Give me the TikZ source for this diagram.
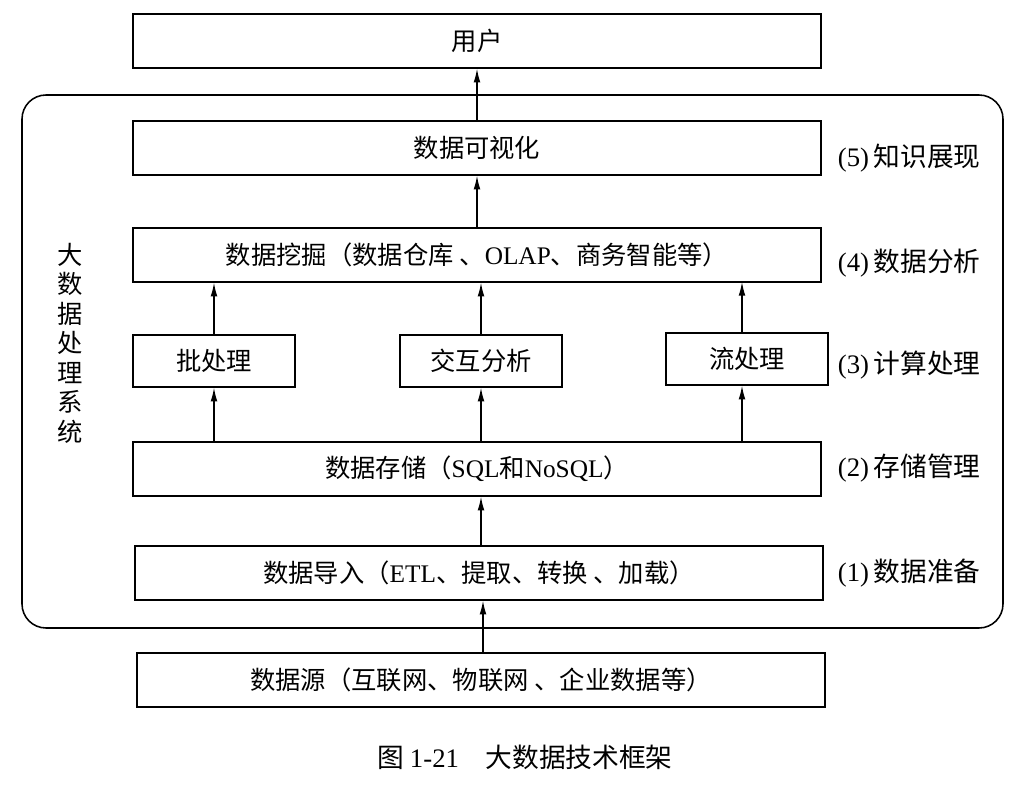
\documentclass[tikz,border=0pt]{standalone}
\usepackage{fontspec}
\setmainfont{Liberation Serif}
\newfontfamily\cjk{Noto Sans CJK SC}
\usetikzlibrary{arrows.meta}
\newcommand{\lat}[1]{{\rmfamily #1}}
\tikzset{
    widebox/.style={draw, line width=1.1pt, minimum width=17.2cm, minimum height=1.35cm,
        font=\cjk\fontsize{18}{21}\selectfont},
    smallbox/.style={draw, line width=1.1pt, minimum width=4.05cm, minimum height=1.3cm,
        font=\cjk\fontsize{18}{21}\selectfont},
    stagelabel/.style={anchor=west, font=\cjk\fontsize{19}{22}\selectfont},
    flow/.style={-{Latex[length=3.4mm, width=1.7mm]}, line width=0.9pt},
}

\begin{document}
\begin{tikzpicture}[x=0.025cm, y=-0.025cm]
        \useasboundingbox (0, 0) rectangle (1033, 787);

        \draw[line width=1.1pt, rounded corners=0.6cm] (22, 95) rectangle (1003, 628);

        \node[widebox] (user) at (477, 41) {用户};
        \node[widebox] (vis) at (477, 148) {数据可视化};
        \node[widebox] (mining) at (477, 255) {数据挖掘（数据仓库 、\lat{OLAP}、商务智能等）};
        \node[smallbox] (batch) at (214, 361) {批处理};
        \node[smallbox] (inter) at (481, 361) {交互分析};
        \node[smallbox] (stream) at (747, 359) {流处理};
        \node[widebox] (storage) at (477, 469) {数据存储（\lat{SQL}和\lat{NoSQL}）};
        \node[widebox] (import) at (479, 573) {数据导入（\lat{ETL}、提取、转换 、加载）};
        \node[widebox] (source) at (481, 680) {数据源（互联网、物联网 、企业数据等）};

        \node[stagelabel] (know) at (833, 158) {\lat{(5)}\,知识展现};
        \node[stagelabel] (ana) at (833, 263) {\lat{(4)}\,数据分析};
        \node[stagelabel] (comp) at (833, 365) {\lat{(3)}\,计算处理};
        \node[stagelabel] (store) at (833, 468) {\lat{(2)}\,存储管理};
        \node[stagelabel] (prep) at (833, 573) {\lat{(1)}\,数据准备};

        \node[font=\cjk\fontsize{18}{21}\selectfont, align=center] (system) at (70, 343)
            {大\\数\\据\\处\\理\\系\\统};

        \node[font=\cjk\fontsize{19}{22}\selectfont] (caption) at (525, 757)
            {图 \lat{1-21}\quad 大数据技术框架};

        \draw[flow] (vis) -- (user);
        \draw[flow] (mining) -- (vis);
        \draw[flow] (batch) -- (batch |- mining.south);
        \draw[flow] (inter) -- (inter |- mining.south);
        \draw[flow] (stream.north -| 742, 0) -- (742, 282);
        \draw[flow] (batch |- storage.north) -- (batch);
        \draw[flow] (inter |- storage.north) -- (inter);
        \draw[flow] (742, 443) -- (stream.south -| 742, 0);
        \draw[flow] (import.north -| inter) -- (inter |- storage.south);
        \draw[flow] (source.north -| 483, 0) -- (import.south -| 483, 0);
    \end{tikzpicture}
\end{document}
